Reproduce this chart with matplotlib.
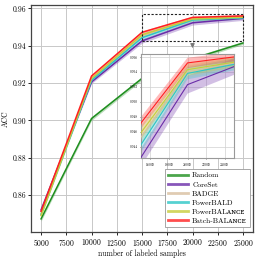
import matplotlib
matplotlib.use("Agg")
import matplotlib.pyplot as plt
import numpy as np
from matplotlib.patches import Rectangle
from matplotlib.lines import Line2D

plt.rcParams['font.family'] = ['cmr10', 'DejaVu Serif']
plt.rcParams['mathtext.fontset'] = 'cm'
plt.rcParams['axes.formatter.use_mathtext'] = True

samples = [5000, 10000, 15000, 20000, 25000]
names = ["Random", "CoreSet", "BADGE", "PowerBALD", "PowerBAL\u1d00\u0274\u1d04\u1d07", "Batch-BAL\u1d00\u0274\u1d04\u1d07"]
colors = ["#1f8f1f", "#6a2ca8", "#d9bf9f", "#2cc6c6", "#c8cc3a", "#ff2020"]

acc_random = [0.8472, 0.9010, 0.9225, 0.9330, 0.9415]
acc_coreset = [0.8520, 0.9206, 0.9426, 0.9523, 0.9547]
acc_badge = [0.8500, 0.9220, 0.9453, 0.9540, 0.9552]
acc_powerbald = [0.8495, 0.9215, 0.9443, 0.9538, 0.9550]
acc_powerbalance = [0.8490, 0.9225, 0.9459, 0.9543, 0.9553]
acc_batchbalance = [0.8512, 0.9238, 0.9472, 0.9552, 0.9560]

std_random = [0.0012, 0.0010, 0.0010, 0.0010, 0.0008]
std_coreset = [0.0008, 0.0008, 0.0012, 0.0012, 0.0011]
std_badge = [0.0007, 0.0007, 0.0010, 0.0008, 0.0008]
std_powerbald = [0.0007, 0.0007, 0.0010, 0.0008, 0.0008]
std_powerbalance = [0.0007, 0.0007, 0.0009, 0.0008, 0.0007]
std_batchbalance = [0.0007, 0.0007, 0.0008, 0.0007, 0.0006]

accs = [acc_random, acc_coreset, acc_badge, acc_powerbald, acc_powerbalance, acc_batchbalance]
stds = [std_random, std_coreset, std_badge, std_powerbald, std_powerbalance, std_batchbalance]

fig = plt.figure(figsize=(2.58, 2.58), dpi=100)
ax = fig.add_axes([0.120, 0.101, 0.861, 0.880])

x = np.array(samples)
for a, s, c in zip(accs, stds, colors):
    a = np.array(a); s = np.array(s)
    ax.fill_between(x, a - s, a + s, color=c, alpha=0.3, lw=0, zorder=2)
    ax.plot(x, a, color=c, lw=1.1, zorder=3)

ax.set_xlim(4000, 26000)
ax.set_ylim(0.8402, 0.9619)
ax.set_xticks([5000, 7500, 10000, 12500, 15000, 17500, 20000, 22500, 25000])
ax.set_yticks([0.86, 0.88, 0.90, 0.92, 0.94, 0.96])
ax.set_yticklabels(["0.86", "0.88", "0.90", "0.92", "0.94", "0.96"])
ax.tick_params(labelsize=5.5, length=2, width=0.6, pad=1.5)
ax.grid(True, color="#c8c8c8", lw=0.7, zorder=0)
ax.set_axisbelow(True)
for sp in ax.spines.values():
    sp.set_color("#444444")
    sp.set_linewidth(0.9)
ax.set_xlabel("number of labeled samples", fontsize=5.5, labelpad=1)
ax.set_ylabel("ACC", fontsize=5.5, labelpad=2)

# zoom rectangle
ax.add_patch(Rectangle((15000, 0.9425), 10000, 0.0145, fill=False, ls=(0, (2, 1.5)),
                       ec="#222222", lw=0.8, zorder=5))
ax.annotate("", xy=(20000, 0.9372), xytext=(20000, 0.9425),
            arrowprops=dict(arrowstyle="-|>", color="#777777", lw=0.8, mutation_scale=6), zorder=5)

handles = [Line2D([], [], color=c, lw=2, alpha=0.8) for c in colors]
leg = ax.legend(handles, names, loc="lower right", fontsize=5.4, frameon=True,
                fancybox=False, edgecolor="#999999", framealpha=1, handlelength=2.6,
                borderpad=0.4, labelspacing=0.38, handletextpad=0.6,
                bbox_to_anchor=(0.986, 0.022), borderaxespad=0)
leg.get_frame().set_linewidth(0.6)
leg.set_zorder(10)

# inset
axi = fig.add_axes([0.547, 0.388, 0.360, 0.403])
for a, s, c in zip(accs, stds, colors):
    a = np.array(a); s = np.array(s)
    axi.fill_between(x, a - s, a + s, color=c, alpha=0.3, lw=0, zorder=2)
    axi.plot(x, a, color=c, lw=0.8, zorder=3)
axi.set_xlim(15000, 25000)
axi.set_ylim(0.9425, 0.9564)
axi.set_xticks([16000, 18000, 20000, 22000, 24000])
axi.set_yticks([0.944, 0.946, 0.948, 0.950, 0.952, 0.954, 0.956])
axi.set_yticklabels(["0.944", "0.946", "0.948", "0.950", "0.952", "0.954", "0.956"])
axi.tick_params(labelsize=2.5, length=1, width=0.4, pad=1)
axi.grid(True, color="#d0d0d0", lw=0.5, zorder=0)
axi.set_axisbelow(True)
for sp in axi.spines.values():
    sp.set_color("#999999")
    sp.set_linewidth(0.8)

fig.savefig("out.png", dpi=100)
